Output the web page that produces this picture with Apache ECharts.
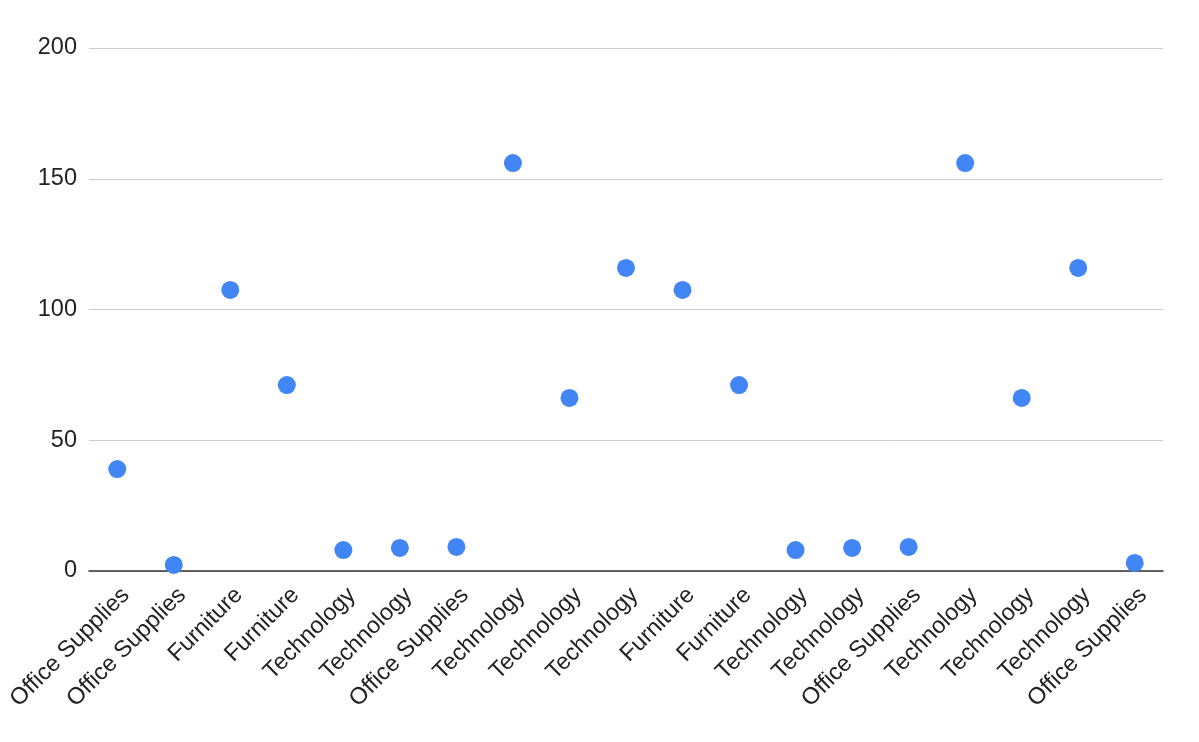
<!DOCTYPE html>
<html><head><meta charset="utf-8">
<script src="https://cdn.jsdelivr.net/npm/echarts@6/dist/echarts.min.js"></script>
<style>html,body{margin:0;padding:0;background:#fff}#c{width:1199px;height:742px}</style>
</head><body><div id="c"></div>
<script>
const categories = ["Office Supplies","Office Supplies","Furniture","Furniture","Technology","Technology","Office Supplies","Technology","Technology","Technology","Furniture","Furniture","Technology","Technology","Office Supplies","Technology","Technology","Technology","Office Supplies"];
const values = [39.0, 2.3, 107.5, 71.1, 8.0, 8.8, 9.2, 156.0, 66.2, 115.9, 107.5, 71.1, 8.0, 8.8, 9.2, 156.0, 66.2, 115.9, 3.1];
const yTicks = [0, 50, 100, 150, 200];

const chart = echarts.init(document.getElementById('c'), null, {renderer: 'canvas'});
chart.setOption({
  animation: false,
  grid: {left: 89, right: 36, top: 48, bottom: 171, containLabel: false, outerBoundsMode: 'none'},
  xAxis: {
    type: 'category',
    data: categories,
    boundaryGap: true,
    axisLine: {show: true, lineStyle: {color: '#333333', width: 1.5}},
    axisTick: {show: false},
    axisLabel: {rotate: 45, interval: 0, margin: 12, verticalAlign: 'top', fontFamily: 'Liberation Sans, Arial, sans-serif', fontSize: 23.5, color: '#222222'},
    splitLine: {show: false}
  },
  yAxis: {
    type: 'value',
    min: yTicks[0], max: yTicks[yTicks.length - 1], interval: 50,
    axisLine: {show: false},
    axisTick: {show: false},
    axisLabel: {margin: 12, fontFamily: 'Liberation Sans, Arial, sans-serif', fontSize: 23.5, color: '#222222'},
    splitLine: {lineStyle: {color: '#cccccc', width: 1}}
  },
  series: [{
    type: 'scatter',
    data: values,
    symbol: 'circle',
    symbolSize: 18,
    itemStyle: {color: '#4285f4', opacity: 1}
  }]
});
</script></body></html>
